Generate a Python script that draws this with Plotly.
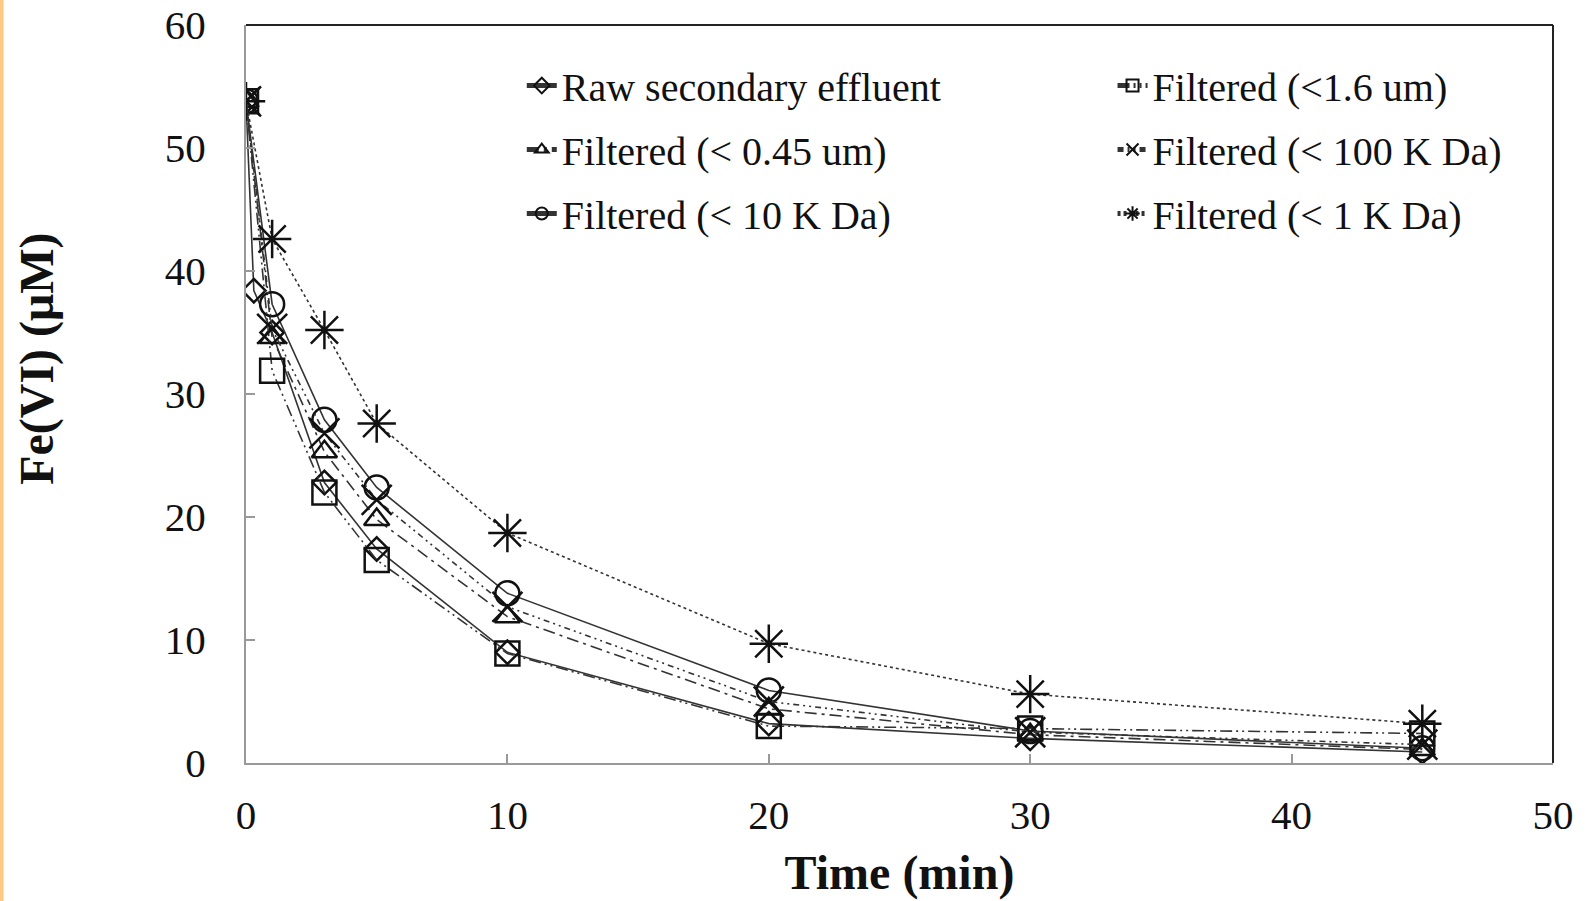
import plotly.graph_objects as go

# ---- data ----
t_raw = [0, 0.3, 1, 3, 5, 10, 20, 30, 45]
raw = [53.8, 38.4, 35.0, 22.8, 17.4, 9.0, 3.2, 2.0, 0.9]

t_std = [0, 1, 3, 5, 10, 20, 30, 45]
f_1_6um = [53.8, 31.9, 22.0, 16.5, 8.9, 3.0, 2.8, 2.4]
f_045um = [53.8, 34.6, 25.3, 19.8, 11.9, 4.4, 2.3, 1.1]
f_100kda = [53.8, 35.3, 26.8, 21.4, 12.7, 5.0, 2.5, 1.5]
f_10kda = [53.8, 37.3, 27.9, 22.4, 13.8, 5.9, 2.6, 1.2]
f_1kda = [53.8, 42.6, 35.2, 27.6, 18.7, 9.7, 5.6, 3.2]

x_ticks = [0, 10, 20, 30, 40, 50]
y_ticks = [0, 10, 20, 30, 40, 50, 60]

FONT = "Liberation Serif"
INK = "#111111"

series = [
    # name, x, y, dash, symbol, size, legend
    ("Raw secondary effluent", t_raw, raw, "solid", "diamond-open", 18, "legend"),
    ("Filtered (< 0.45 um)", t_std, f_045um, "12px,5px,3px,5px", "triangle-up-open", 22, "legend"),
    ("Filtered (< 10 K Da)", t_std, f_10kda, "solid", "circle-open", 24, "legend"),
    ("Filtered (<1.6 um)", t_std, f_1_6um, "12px,4px,2px,4px,2px,4px", "square-open", 24, "legend2"),
    ("Filtered (< 100 K Da)", t_std, f_100kda, "6px,4px,2px,4px,2px,4px", "x-thin-open", 30, "legend2"),
    ("Filtered (< 1 K Da)", t_std, f_1kda, "3px,3px", "asterisk-open", 32, "legend2"),
]

fig = go.Figure()
for i, (name, xs, ys, dash, sym, size, leg) in enumerate(series):
    fig.add_trace(go.Scatter(
        x=xs, y=ys, name=name, mode="lines+markers",
        line=dict(color="#333333", width=1.6, dash=dash),
        marker=dict(symbol=sym, size=size, color=INK,
                    line=dict(color=INK, width=2.5)),
        legend=leg, legendgroup=name,
    ))

fig.update_layout(
    width=1587, height=901,
    margin=dict(l=246, r=34, t=25, b=138, autoexpand=False),
    paper_bgcolor="white", plot_bgcolor="white",
    font=dict(family=FONT, color="#111111", size=38),
    showlegend=True,
    legend=dict(x=0.211, y=0.962, xanchor="left", yanchor="top",
                bgcolor="rgba(0,0,0,0)", font=dict(family=FONT, size=40, color="#111"),
                tracegroupgap=9, itemsizing="constant"),
    legend2=dict(x=0.663, y=0.962, xanchor="left", yanchor="top",
                 bgcolor="rgba(0,0,0,0)", font=dict(family=FONT, size=40, color="#111"),
                 tracegroupgap=9, itemsizing="constant"),
    xaxis=dict(range=[0, 50], tickvals=x_ticks, ticktext=[str(v) for v in x_ticks],
               showgrid=False, zeroline=False, showline=True, linecolor="#999999",
               linewidth=2, ticks="inside", ticklen=9, tickcolor="#999999", tickwidth=1.5,
               tickfont=dict(family=FONT, size=41, color="#111"), ticklabelstandoff=15,
               automargin=False,
               title=dict(text="<b>Time (min)</b>", font=dict(family=FONT, size=48, color="#111"),
                          standoff=18)),
    yaxis=dict(range=[0, 60], tickvals=y_ticks, ticktext=[str(v) for v in y_ticks],
               showgrid=False, zeroline=False, showline=True, linecolor="#999999",
               linewidth=2, ticks="inside", ticklen=9, tickcolor="#999999", tickwidth=1.5,
               tickfont=dict(family=FONT, size=41, color="#111"), ticklabelstandoff=30,
               automargin=False),
    annotations=[
        dict(text="<b>Fe(VI) (μM)</b>", textangle=-90, xref="paper", yref="paper",
             x=-0.1595, y=0.547, xanchor="center", yanchor="middle", showarrow=False,
             font=dict(family=FONT, size=48, color="#111")),
    ],
    shapes=[
        dict(type="line", xref="paper", yref="paper", x0=0, x1=1, y0=1, y1=1,
             line=dict(color="#222", width=2)),
        dict(type="line", xref="paper", yref="paper", x0=1, x1=1, y0=0, y1=1,
             line=dict(color="#222", width=2)),
        dict(type="rect", xref="paper", yref="paper", x0=-0.1885, x1=-0.1855, y0=-0.2, y1=1.04,
             line=dict(width=0), fillcolor="#FFC983", layer="below"),
    ],
)

fig.write_html("out.html")
